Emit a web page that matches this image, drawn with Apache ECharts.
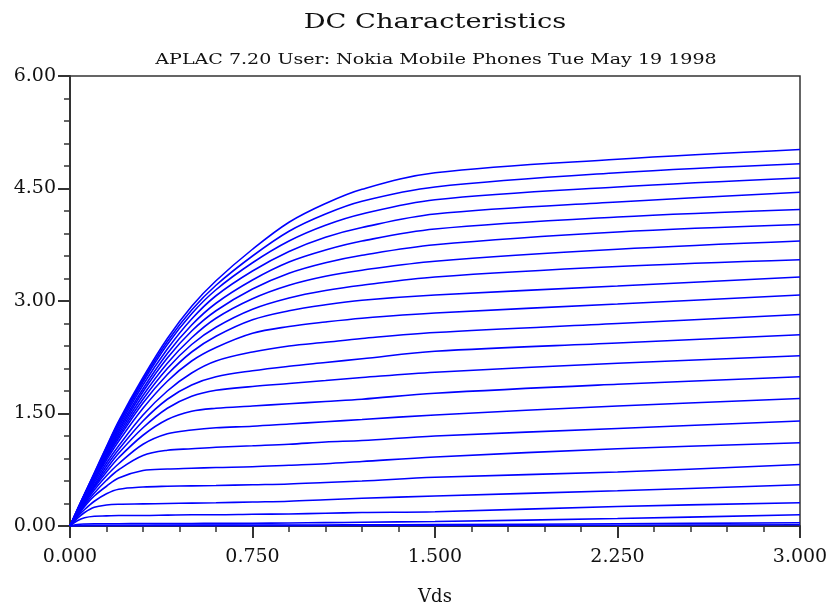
<!DOCTYPE html>
<html>
<head>
<meta charset="utf-8">
<script src="https://cdn.jsdelivr.net/npm/echarts@6/dist/echarts.min.js"></script>
<style>html,body{margin:0;padding:0;background:#fff;overflow:hidden;}#chart{width:832px;height:605px;}</style>
</head>
<body>
<div id="chart"></div>
<script>
// Vds sample points (V)
const vds = [0, 0.03, 0.06, 0.1, 0.15, 0.2, 0.3, 0.4, 0.5, 0.6, 0.75, 0.9, 1.05, 1.2, 1.5, 2.25, 3.0];
// Drain-current curves (top curve first)
const c1  = [0, 0.22, 0.43, 0.71, 1.06, 1.40, 1.98, 2.50, 2.93, 3.27, 3.69, 4.05, 4.30, 4.49, 4.71, 4.89, 5.02];
const c2  = [0, 0.22, 0.43, 0.70, 1.05, 1.38, 1.95, 2.46, 2.88, 3.21, 3.60, 3.93, 4.16, 4.33, 4.52, 4.71, 4.83];
const c3  = [0, 0.21, 0.42, 0.69, 1.03, 1.35, 1.92, 2.42, 2.83, 3.15, 3.51, 3.80, 4.01, 4.16, 4.35, 4.52, 4.64];
const c4  = [0, 0.21, 0.42, 0.68, 1.01, 1.32, 1.88, 2.36, 2.76, 3.07, 3.40, 3.66, 3.85, 3.98, 4.16, 4.32, 4.45];
const c5  = [0, 0.21, 0.41, 0.67, 0.99, 1.29, 1.83, 2.30, 2.68, 2.97, 3.28, 3.52, 3.68, 3.80, 3.96, 4.12, 4.22];
const c6  = [0, 0.20, 0.40, 0.66, 0.97, 1.26, 1.79, 2.24, 2.60, 2.87, 3.16, 3.37, 3.51, 3.61, 3.75, 3.92, 4.02];
const c7  = [0, 0.20, 0.40, 0.65, 0.95, 1.23, 1.74, 2.17, 2.51, 2.77, 3.03, 3.21, 3.33, 3.41, 3.53, 3.69, 3.80];
const c8  = [0, 0.20, 0.39, 0.64, 0.93, 1.20, 1.69, 2.10, 2.42, 2.65, 2.89, 3.04, 3.14, 3.21, 3.32, 3.46, 3.55];
const c9  = [0, 0.19, 0.38, 0.62, 0.91, 1.17, 1.64, 2.02, 2.32, 2.53, 2.75, 2.87, 2.95, 3.01, 3.08, 3.20, 3.32];
const c10 = [0, 0.19, 0.37, 0.61, 0.88, 1.13, 1.57, 1.93, 2.20, 2.38, 2.57, 2.66, 2.72, 2.77, 2.84, 2.96, 3.08];
const c11 = [0, 0.18, 0.35, 0.58, 0.84, 1.07, 1.48, 1.80, 2.04, 2.20, 2.32, 2.40, 2.45, 2.50, 2.58, 2.70, 2.82];
const c12 = [0, 0.17, 0.34, 0.55, 0.80, 1.02, 1.40, 1.69, 1.88, 1.99, 2.07, 2.13, 2.18, 2.23, 2.33, 2.44, 2.55];
const c13 = [0, 0.17, 0.33, 0.53, 0.76, 0.97, 1.31, 1.57, 1.73, 1.81, 1.86, 1.90, 1.94, 1.98, 2.05, 2.17, 2.27];
const c14 = [0, 0.16, 0.32, 0.51, 0.72, 0.91, 1.21, 1.42, 1.53, 1.57, 1.60, 1.63, 1.66, 1.69, 1.77, 1.89, 1.99];
const c15 = [0, 0.15, 0.30, 0.48, 0.67, 0.83, 1.09, 1.23, 1.28, 1.31, 1.33, 1.36, 1.39, 1.42, 1.48, 1.60, 1.70];
const c16 = [0, 0.14, 0.28, 0.44, 0.61, 0.75, 0.94, 1.01, 1.03, 1.05, 1.07, 1.09, 1.12, 1.14, 1.20, 1.30, 1.40];
const c17 = [0, 0.13, 0.26, 0.40, 0.53, 0.64, 0.74, 0.76, 0.77, 0.78, 0.79, 0.81, 0.83, 0.86, 0.92, 1.03, 1.11];
const c18 = [0, 0.12, 0.22, 0.33, 0.43, 0.49, 0.52, 0.53, 0.535, 0.54, 0.55, 0.56, 0.58, 0.60, 0.65, 0.72, 0.82];
const c19 = [0, 0.10, 0.18, 0.25, 0.28, 0.29, 0.295, 0.30, 0.305, 0.31, 0.32, 0.33, 0.35, 0.37, 0.40, 0.47, 0.55];
const c20 = [0, 0.07, 0.11, 0.13, 0.135, 0.14, 0.14, 0.145, 0.15, 0.15, 0.156, 0.16, 0.17, 0.18, 0.19, 0.26, 0.31];
const c21 = [0, 0.02, 0.027, 0.03, 0.03, 0.031, 0.032, 0.033, 0.034, 0.035, 0.036, 0.04, 0.045, 0.05, 0.06, 0.10, 0.15];
const c22 = [0, 0.006, 0.008, 0.01, 0.01, 0.011, 0.011, 0.012, 0.012, 0.012, 0.013, 0.013, 0.014, 0.015, 0.018, 0.03, 0.044];
const c23 = [0, 0.002, 0.003, 0.003, 0.004, 0.004, 0.004, 0.004, 0.005, 0.005, 0.005, 0.005, 0.006, 0.006, 0.007, 0.011, 0.017];
const curves = [c1, c2, c3, c4, c5, c6, c7, c8, c9, c10, c11, c12, c13, c14, c15, c16, c17, c18, c19, c20, c21, c22, c23];

const xTicks = { min: 0, max: 3, interval: 0.75 };
const yTicks = { min: 0, max: 6, interval: 1.5 };

const chartTitle = 'DC Characteristics';
const chartSubtitle = 'APLAC 7.20 User: Nokia Mobile Phones Tue May 19 1998';
const xName = 'Vds';

const serif = 'DejaVu Serif';
const axisColor = '#333';

function stretchedText(text, cx, cy, size, sx) {
  return {
    type: 'text', x: cx, y: cy, scaleX: sx, scaleY: 1, silent: true,
    style: {
      text: text, x: 0, y: 0,
      font: 'normal ' + size + 'px "' + serif + '"',
      fontSize: size, fontFamily: serif,
      fill: '#111',
      textAlign: 'center', textVerticalAlign: 'middle',
      align: 'center', verticalAlign: 'middle'
    }
  };
}

const chart = echarts.init(document.getElementById('chart'));
chart.setOption({
  animation: false,
  backgroundColor: '#fff',
  graphic: [
    stretchedText(chartTitle, 435, 23, 21, 1.3),
    stretchedText(chartSubtitle, 436, 60, 15, 1.27)
  ],
  grid: { left: 70, right: 32, top: 76, bottom: 79, outerBoundsMode: 'none', containLabel: false,
          show: true, borderColor: axisColor, borderWidth: 1.5, backgroundColor: 'transparent' },
  xAxis: {
    type: 'value', min: xTicks.min, max: xTicks.max, interval: xTicks.interval,
    name: xName, nameLocation: 'middle', nameGap: 62,
    nameTextStyle: { fontFamily: serif, fontSize: 18, color: '#111' },
    axisLine: { show: true, onZero: false, lineStyle: { color: axisColor, width: 2 } },
    axisTick: { show: true, inside: false, length: 12, lineStyle: { color: axisColor, width: 2 } },
    minorTick: { show: true, splitNumber: 5, length: 6, lineStyle: { color: axisColor, width: 1.5 } },
    splitLine: { show: false },
    axisLabel: { fontFamily: serif, fontSize: 19, color: '#111', margin: 22, formatter: v => v.toFixed(3) }
  },
  yAxis: {
    type: 'value', min: yTicks.min, max: yTicks.max, interval: yTicks.interval,
    axisLine: { show: true, onZero: false, lineStyle: { color: axisColor, width: 2 } },
    axisTick: { show: true, inside: false, length: 12, lineStyle: { color: axisColor, width: 2 } },
    minorTick: { show: true, splitNumber: 5, length: 6, lineStyle: { color: axisColor, width: 1.5 } },
    splitLine: { show: false },
    axisLabel: { fontFamily: serif, fontSize: 19, color: '#111', margin: 14, formatter: v => v.toFixed(2) }
  },
  series: curves.map((c, k) => ({
    type: 'line',
    name: 'Id' + (k + 1),
    data: vds.map((x, i) => [x, c[i]]),
    showSymbol: false,
    smooth: 0.35,
    silent: true,
    lineStyle: { color: '#0000ff', width: 1.6 }
  }))
});
</script>
</body>
</html>
